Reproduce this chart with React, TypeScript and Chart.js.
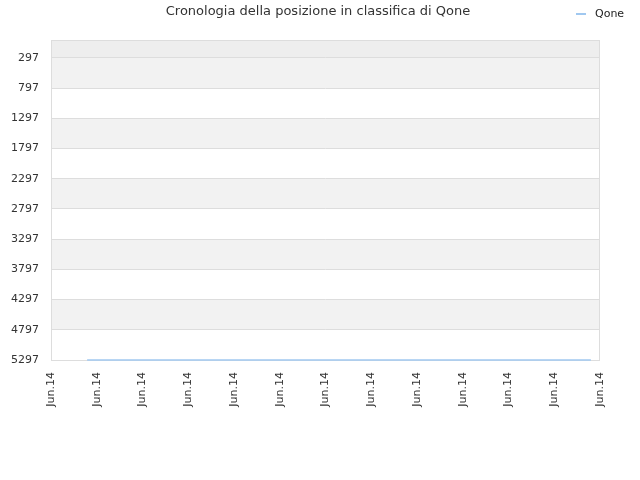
import { useEffect, useRef } from 'react'
import { Chart, registerables } from 'chart.js'

Chart.register(...registerables)

const titleText = 'Cronologia della posizione in classifica di Qone'
const seriesName = 'Qone'
const tickLabel = 'Jun.14'
const xTickCount = 13
const yTicks = [297, 797, 1297, 1797, 2297, 2797, 3297, 3797, 4297, 4797, 5297]
const pointDays = [0.79, 11.8]
const positions = [5297, 5297]

const lineColor = 'rgb(160, 200, 240)'
const font = '"DejaVu Sans", sans-serif'

const bandsPlugin = {
  id: 'bands',
  beforeDraw(chart: any) {
    const { ctx, chartArea, scales } = chart
    const y = scales.y
    ctx.save()
    // top band above first tick
    const first = y.getPixelForValue(yTicks[0])
    ctx.fillStyle = '#eeeeee'
    ctx.fillRect(chartArea.left, chartArea.top, chartArea.right - chartArea.left, first - chartArea.top)
    for (let i = 0; i < yTicks.length - 1; i++) {
      if (i % 2 !== 0) continue
      const a = y.getPixelForValue(yTicks[i])
      const b = y.getPixelForValue(yTicks[i + 1])
      ctx.fillStyle = '#f2f2f2'
      ctx.fillRect(chartArea.left, a, chartArea.right - chartArea.left, b - a)
    }
    ctx.restore()
  },
  beforeDatasetsDraw(chart: any) {
    const { ctx, chartArea } = chart
    ctx.save()
    ctx.strokeStyle = '#dddddd'
    ctx.lineWidth = 1
    ctx.strokeRect(chartArea.left + 0.5, chartArea.top + 0.5, chartArea.right - chartArea.left - 1, chartArea.bottom - chartArea.top)
    ctx.restore()
  },
  afterDraw(chart: any) {
    const { ctx } = chart
    ctx.save()
    // title
    ctx.fillStyle = '#333333'
    ctx.font = `13px ${font}`
    ctx.textAlign = 'center'
    ctx.textBaseline = 'middle'
    ctx.fillText(titleText, 318, 12)
    // legend
    ctx.strokeStyle = lineColor
    ctx.lineWidth = 2
    ctx.beginPath()
    ctx.moveTo(576, 14)
    ctx.lineTo(586, 14)
    ctx.stroke()
    ctx.fillStyle = '#222222'
    ctx.font = `11px ${font}`
    ctx.textAlign = 'left'
    ctx.fillText(seriesName, 595, 14)
    ctx.restore()
  },
}

export default function App() {
  const chartRef = useRef<HTMLCanvasElement>(null)
  const chartInstance = useRef<Chart | null>(null)

  useEffect(() => {
    if (!chartRef.current) return
    if (chartInstance.current) chartInstance.current.destroy()

    chartInstance.current = new Chart(chartRef.current, {
      type: 'line',
      data: {
        datasets: [{
          label: seriesName,
          data: pointDays.map((d, i) => ({ x: d, y: positions[i] })),
          borderColor: lineColor,
          borderWidth: 1.5,
          pointRadius: 0,
          fill: false,
          clip: false,
        }],
      },
      options: {
        responsive: false,
        animation: false,
        layout: { padding: { top: 40, right: 40, left: 0, bottom: 0 } },
        plugins: {
          legend: { display: false },
          title: { display: false },
          tooltip: { enabled: false },
        },
        scales: {
          x: {
            type: 'linear',
            min: 0,
            max: xTickCount - 1,
            afterFit: (s: any) => { s.height = 120 },
            afterBuildTicks: (s: any) => {
              s.ticks = Array.from({ length: xTickCount }, (_, i) => ({ value: i }))
            },
            grid: { display: false, drawTicks: false },
            border: { display: false },
            ticks: {
              callback: () => tickLabel,
              maxRotation: 90,
              minRotation: 90,
              padding: 12,
              autoSkip: false,
              color: '#333333',
              font: { family: font, size: 11 },
            },
          },
          y: {
            reverse: true,
            min: 0,
            max: 5297,
            afterFit: (s: any) => { s.width = 51 },
            afterBuildTicks: (s: any) => {
              s.ticks = yTicks.map(v => ({ value: v }))
            },
            grid: { color: '#dddddd', drawTicks: false },
            border: { display: false },
            ticks: {
              callback: (v: any) => String(v),
              padding: 12,
              color: '#333333',
              font: { family: font, size: 11 },
            },
          },
        },
      },
      plugins: [bandsPlugin],
    })

    return () => {
      if (chartInstance.current) {
        chartInstance.current.destroy()
        chartInstance.current = null
      }
    }
  }, [])

  return (
    <div style={{ position: 'fixed', left: 0, top: 0, width: 640, height: 480, background: '#fff' }}>
      <canvas ref={chartRef} width={640} height={480} />
    </div>
  )
}
